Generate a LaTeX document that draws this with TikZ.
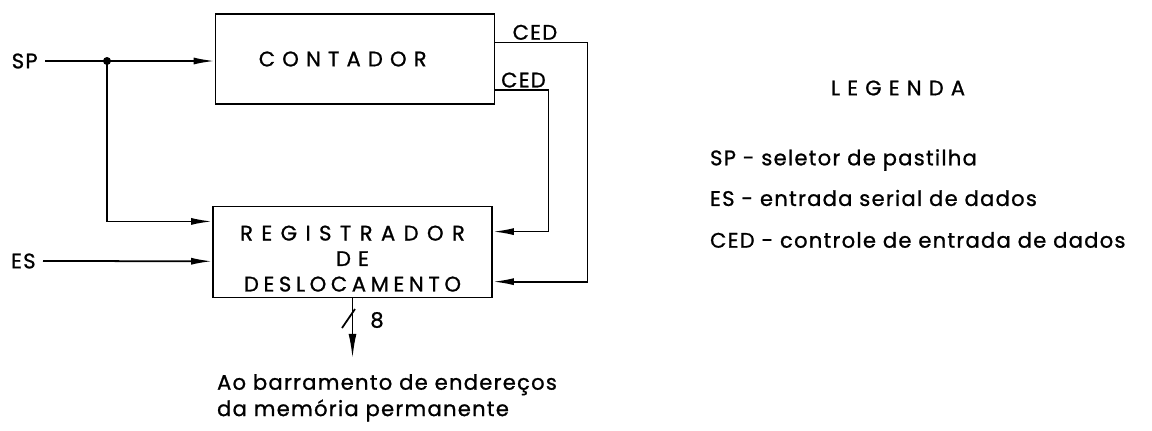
\documentclass[tikz,border=0pt]{standalone}
\usepackage{fontspec}
\setmainfont{Poppins}[FakeBold=1]
\newfontfamily\wide[LetterSpace=34,FakeBold=1]{Poppins}
\newfontfamily\spaced[LetterSpace=6,FakeBold=1]{Poppins}
\usetikzlibrary{arrows.meta,positioning,calc}

\tikzset{
  block/.style={draw, line width=1pt, minimum width=279*0.02cm, minimum height=90*0.02cm, font=\wide\fontsize{12}{14.5}\selectfont, align=center},
  sig/.style={line width=1pt, -{Latex[length=12pt,width=4pt]}},
  lbl/.style={font=\spaced\fontsize{12}{14}\selectfont, inner sep=1pt}
}

\begin{document}
\begin{tikzpicture}[x=0.02cm, y=-0.02cm]
    \useasboundingbox (0,0) rectangle (1152,430);
    % blocos
    \node[block] (contador) at (355,59) {CONTADOR\hspace*{14pt}};
    \node[block] (registrador) at (352.5,252) {\rule{0pt}{16pt}{\addfontfeature{LetterSpace=40}REGISTRADOR}\\DE\\{\addfontfeature{LetterSpace=22}DESLOCAMENTO}};
    % entradas
    \node[lbl, anchor=east, inner xsep=4pt] (sp) at (45,61) {SP};
    \node[lbl, anchor=east, inner xsep=4pt] (es) at (43,261) {ES};
    \coordinate (jn) at (107,61);
    \coordinate (rSP) at ($(registrador.north west)!0.17!(registrador.south west)$);
    \coordinate (rES) at ($(registrador.north west)!0.6!(registrador.south west)$);
    \draw[sig] (sp.east) -- (sp.east -| contador.west);
    \draw[sig] (jn) |- (rSP);
    \fill (jn) circle (4);
    \draw[sig] (es.east) -- (rES);
    % controle de entrada de dados
    \coordinate (cOut1) at ($(contador.north east)!0.32!(contador.south east)$);
    \coordinate (cOut2) at ($(contador.north east)!0.84!(contador.south east)$);
    \coordinate (rIn1) at ($(registrador.north east)!0.82!(registrador.south east)$);
    \coordinate (rIn2) at ($(registrador.north east)!0.28!(registrador.south east)$);
    \draw[sig] (cOut1) -- node[lbl, above, pos=0.43] {CED} ++(92,0) |- (rIn1);
    \draw[sig] (cOut2) -- node[lbl, above, pos=0.53] {CED} ++(53,0) |- (rIn2);
    % barramento
    \coordinate (bus) at ($(registrador.south)+(0,60)$);
    \draw[sig, -{Latex[length=14pt,width=4.5pt]}] (registrador.south) -- (bus);
    \draw[line width=1pt] (342,328) -- (355,309);
    \node[lbl] (n8) at (377,320) {8};
    \node[lbl, anchor=north west, align=left, font=\spaced\fontsize{12}{15}\selectfont] (dest) at (215,372) {Ao barramento de endereços\\da memória permanente};
    % legenda
    \node[lbl, font=\wide\fontsize{12}{14}\selectfont] (leg) at (898,88) {LEGENDA};
    \node[lbl, anchor=west] (legSP) at (708,160) {SP - seletor de pastilha};
    \node[lbl, anchor=west] (legES) at (708,198) {ES - entrada serial de dados};
    \node[lbl, anchor=west] (legCED) at (708,240) {CED - controle de entrada de dados};
  \end{tikzpicture}
\end{document}
